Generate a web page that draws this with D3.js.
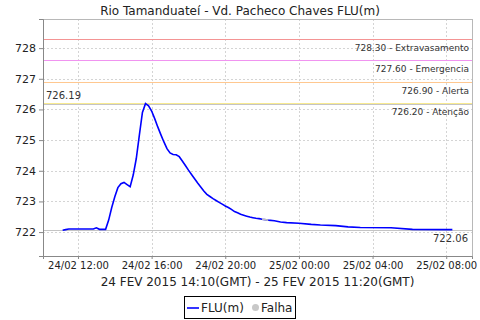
<!DOCTYPE html>
<html>
<head>
<meta charset="utf-8">
<script src="https://cdn.jsdelivr.net/npm/d3@7"></script>
<style>
  body { margin: 0; background: #fff; }
  svg { display: block; font-family: "DejaVu Sans", sans-serif; }
</style>
</head>
<body>
<svg id="chart" width="480" height="320"></svg>
<script>
// readings (local time) and level in metres
const times = ["2015-02-24T11:10", "2015-02-24T11:20", "2015-02-24T11:30", "2015-02-24T12:00", "2015-02-24T12:30",
  "2015-02-24T12:50", "2015-02-24T13:00", "2015-02-24T13:10", "2015-02-24T13:20", "2015-02-24T13:30",
  "2015-02-24T13:40", "2015-02-24T13:50", "2015-02-24T14:00", "2015-02-24T14:10", "2015-02-24T14:20",
  "2015-02-24T14:30", "2015-02-24T14:40", "2015-02-24T14:50", "2015-02-24T15:00", "2015-02-24T15:10",
  "2015-02-24T15:20", "2015-02-24T15:30", "2015-02-24T15:40", "2015-02-24T15:50", "2015-02-24T16:00",
  "2015-02-24T16:10", "2015-02-24T16:20", "2015-02-24T16:30", "2015-02-24T16:40", "2015-02-24T16:50",
  "2015-02-24T17:00", "2015-02-24T17:10", "2015-02-24T17:20", "2015-02-24T17:30", "2015-02-24T17:40",
  "2015-02-24T17:50", "2015-02-24T18:00", "2015-02-24T18:10", "2015-02-24T18:20", "2015-02-24T18:30",
  "2015-02-24T18:40", "2015-02-24T18:50", "2015-02-24T19:00", "2015-02-24T19:10", "2015-02-24T19:20",
  "2015-02-24T19:30", "2015-02-24T19:40", "2015-02-24T19:50", "2015-02-24T20:00", "2015-02-24T20:10",
  "2015-02-24T20:20", "2015-02-24T20:30", "2015-02-24T20:40", "2015-02-24T20:50", "2015-02-24T21:00",
  "2015-02-24T21:10", "2015-02-24T21:20", "2015-02-24T21:30", "2015-02-24T21:40", "2015-02-24T21:50",
  "2015-02-24T22:00", "2015-02-24T22:20", "2015-02-24T22:40", "2015-02-24T23:00", "2015-02-24T23:20",
  "2015-02-25T00:00", "2015-02-25T00:40", "2015-02-25T01:10", "2015-02-25T02:00", "2015-02-25T02:40",
  "2015-02-25T03:20", "2015-02-25T05:00", "2015-02-25T06:10", "2015-02-25T08:20"];
const levels = [722.06, 722.08, 722.10, 722.10, 722.10,
  722.10, 722.14, 722.09, 722.09, 722.09,
  722.39, 722.80, 723.15, 723.45, 723.58,
  723.62, 723.55, 723.48, 723.86, 724.40,
  725.16, 725.90, 726.19, 726.12, 725.95,
  725.70, 725.43, 725.18, 724.94, 724.72,
  724.58, 724.53, 724.52, 724.46, 724.32,
  724.17, 724.02, 723.88, 723.74, 723.60,
  723.47, 723.34, 723.23, 723.16, 723.09,
  723.03, 722.97, 722.91, 722.85, 722.80,
  722.74, 722.67, 722.63, 722.58, 722.55,
  722.52, 722.49, 722.47, 722.45, 722.44,
  722.42, 722.39, 722.37, 722.33, 722.31,
  722.29, 722.25, 722.23, 722.21, 722.17,
  722.15, 722.14, 722.09, 722.08];

// gap where the station reported a failure
const falhaTimes = ["2015-02-24T22:00", "2015-02-24T22:20"];
const falhaLevels = [722.42, 722.39];

// alert levels
const limitValues = [728.30, 727.60, 726.90, 726.20];
const limitNames = ["Extravasamento", "Emergencia", "Alerta", "Atenção"];
const limitColors = ["#f49494", "#f094f0", "#ffc890", "#f8ea90"];

const yTicks = [722, 723, 724, 725, 726, 727, 728];
const xTicks = ["2015-02-24T12:00", "2015-02-24T16:00", "2015-02-24T20:00",
  "2015-02-25T00:00", "2015-02-25T04:00", "2015-02-25T08:00"];

const parse = d3.utcParse("%Y-%m-%dT%H:%M");
const data = times.map((t, i) => ({ t: parse(t), v: levels[i] }));
const falha = falhaTimes.map((t, i) => ({ t: parse(t), v: falhaLevels[i] }));

const pLeft = 43, pRight = 472, pTop = 19, pBottom = 256;
const svg = d3.select("#chart");

const x = d3.scaleUtc()
  .domain([parse("2015-02-24T10:06"), parse("2015-02-25T09:24")])
  .range([pLeft, pRight]);
const y = d3.scaleLinear()
  .domain([721.22, 728.95])
  .range([pBottom, pTop]);

// title
svg.append("text")
  .attr("x", 240).attr("y", 15)
  .attr("text-anchor", "middle")
  .style("font-size", "12px").attr("fill", "#222")
  .text("Rio Tamanduateí - Vd. Pacheco Chaves FLU(m)");

// grid
svg.append("g").selectAll("line").data(yTicks).join("line")
  .attr("x1", pLeft).attr("x2", pRight)
  .attr("y1", d => Math.round(y(d)) + 0.5).attr("y2", d => Math.round(y(d)) + 0.5)
  .attr("stroke", "#d4d4d4").attr("stroke-dasharray", "2,2");
svg.append("g").selectAll("line").data(xTicks).join("line")
  .attr("y1", pTop).attr("y2", pBottom)
  .attr("x1", d => Math.round(x(parse(d))) + 0.5).attr("x2", d => Math.round(x(parse(d))) + 0.5)
  .attr("stroke", "#d4d4d4").attr("stroke-dasharray", "2,2");

// plot border
svg.append("rect")
  .attr("x", pLeft + 0.5).attr("y", pTop + 0.5)
  .attr("width", pRight - pLeft).attr("height", pBottom - pTop)
  .attr("fill", "none").attr("stroke", "#b8b8b8");

// alert lines + labels
limitValues.forEach((v, i) => {
  const yy = Math.round(y(v)) + 0.5;
  svg.append("line")
    .attr("x1", pLeft).attr("x2", pRight).attr("y1", yy).attr("y2", yy)
    .attr("stroke", limitColors[i]).attr("stroke-width", 1);
  svg.append("text")
    .attr("x", pRight - 3).attr("y", yy + 11)
    .attr("text-anchor", "end")
    .style("font-size", "9px").attr("fill", "#333")
    .text(d3.format(".2f")(v) + " - " + limitNames[i]);
});

// max / min markers
const maxV = d3.max(levels), minV = d3.min(levels);
[maxV, minV].forEach(v => {
  const yy = Math.round(y(v)) + 0.5;
  svg.append("line")
    .attr("x1", pLeft).attr("x2", pRight).attr("y1", yy).attr("y2", yy)
    .attr("stroke", "#c4c4c4").attr("stroke-width", 1);
});
svg.append("text")
  .attr("x", pLeft + 3).attr("y", Math.round(y(maxV)) - 5)
  .style("font-size", "10px").attr("fill", "#333")
  .text(d3.format(".2f")(maxV));
svg.append("text")
  .attr("x", pRight - 4).attr("y", Math.round(y(minV)) + 12)
  .attr("text-anchor", "end")
  .style("font-size", "10px").attr("fill", "#333")
  .text(d3.format(".2f")(minV));

// series
const line = d3.line().x(d => x(d.t)).y(d => y(d.v));
svg.append("path").datum(data)
  .attr("d", line).attr("fill", "none")
  .attr("stroke", "#0000ff").attr("stroke-width", 1.6);
svg.append("path").datum(falha)
  .attr("d", line).attr("fill", "none")
  .attr("stroke", "#c0c0c0").attr("stroke-width", 1.6);

// axes
const yAxis = svg.append("g")
  .attr("transform", `translate(${pLeft},0)`)
  .call(d3.axisLeft(y).tickValues(yTicks).tickSize(4).tickPadding(3).tickFormat(d3.format("d")));
const xAxis = svg.append("g")
  .attr("transform", `translate(0,${pBottom})`)
  .call(d3.axisBottom(x).tickValues(xTicks.map(parse)).tickSize(3).tickPadding(3)
    .tickFormat(d3.utcFormat("%d/%m %H:%M")));
[yAxis, xAxis].forEach(g => {
  g.select(".domain").attr("stroke", "#888");
  g.selectAll(".tick line").attr("stroke", "#888");
  g.selectAll("text").attr("fill", "#222").style("font-family", "DejaVu Sans, sans-serif");
});
yAxis.selectAll("text").style("font-size", "11px");
xAxis.selectAll("text").style("font-size", "10px");

// period label
svg.append("text")
  .attr("x", (pLeft + pRight) / 2).attr("y", 286)
  .attr("text-anchor", "middle")
  .style("font-size", "12px").attr("fill", "#222")
  .text("24 FEV 2015 14:10(GMT) - 25 FEV 2015 11:20(GMT)");

// legend
const lg = svg.append("g");
lg.append("rect").attr("x", 184.5).attr("y", 296.5).attr("width", 111).attr("height", 22)
  .attr("fill", "#fff").attr("stroke", "#000");
lg.append("line").attr("x1", 187).attr("x2", 199).attr("y1", 308).attr("y2", 308)
  .attr("stroke", "#0000ff").attr("stroke-width", 1.6);
lg.append("text").attr("x", 201).attr("y", 312).style("font-size", "12px").attr("fill", "#222").text("FLU(m)");
lg.append("circle").attr("cx", 255.5).attr("cy", 307.5).attr("r", 3.5).attr("fill", "#c8c8c8");
lg.append("text").attr("x", 261).attr("y", 312).style("font-size", "12px").attr("fill", "#222").text("Falha");
</script>
</body>
</html>
